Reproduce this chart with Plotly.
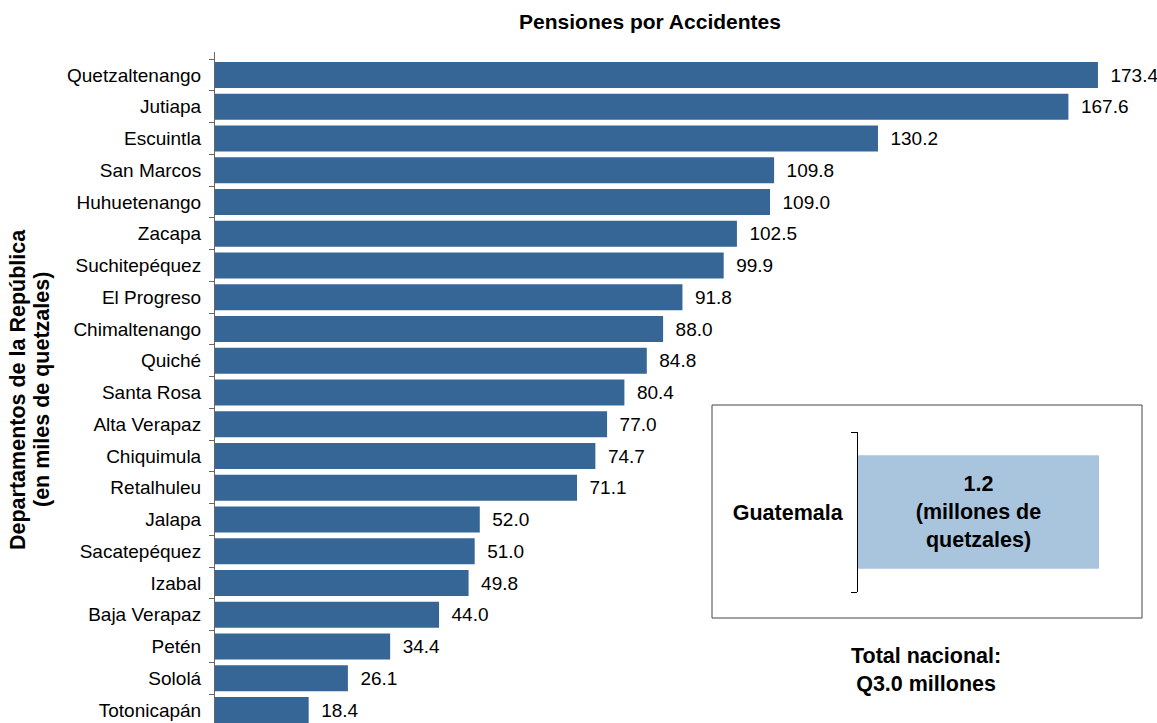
import plotly.graph_objects as go

departamentos = ["Quetzaltenango", "Jutiapa", "Escuintla", "San Marcos", "Huhuetenango",
                 "Zacapa", "Suchitepéquez", "El Progreso", "Chimaltenango", "Quiché",
                 "Santa Rosa", "Alta Verapaz", "Chiquimula", "Retalhuleu", "Jalapa",
                 "Sacatepéquez", "Izabal", "Baja Verapaz", "Petén", "Sololá", "Totonicapán"]
valores = [173.4, 167.6, 130.2, 109.8, 109.0, 102.5, 99.9, 91.8, 88.0, 84.8,
           80.4, 77.0, 74.7, 71.1, 52.0, 51.0, 49.8, 44.0, 34.4, 26.1, 18.4]

capital = ["Guatemala"]
capital_valor = [1.2]
capital_texto = ["1.2<br>(millones de<br>quetzales)"]

titulo = "Pensiones por Accidentes"
eje_y_lineas = ["Departamentos de la República", "(en miles de quetzales)"]
total = "Total nacional:<br>Q3.0 millones"

FONT = "Liberation Sans, Arial, Helvetica, sans-serif"
BAR = "#366696"
LIGHT = "#a9c5de"
W, H = 1157, 723
L, T = 215, 52
PW, PH = W - L, H - T
REG = 19
BOLD = 21.5

def px(x):
    return (x - L) / PW

def py(y):
    return (H - y) / PH

fig = go.Figure()
fig.add_trace(go.Bar(
    x=valores, y=departamentos, orientation="h",
    marker=dict(color=BAR, line=dict(width=0)),
    width=0.82,
    text=[f"\u2002{v:.1f}" for v in valores],
    textposition="outside", constraintext="none", cliponaxis=False,
    textfont=dict(family=FONT, size=REG, color="#000"),
    hoverinfo="skip", showlegend=False,
))
fig.add_trace(go.Bar(
    x=capital_valor, y=capital, orientation="h", xaxis="x2", yaxis="y2",
    marker=dict(color=LIGHT, line=dict(width=0)),
    width=0.71,
    text=capital_texto, textposition="inside", insidetextanchor="middle",
    constraintext="none",
    textfont=dict(family=FONT, size=BOLD, color="#000", weight="bold"),
    hoverinfo="skip", showlegend=False,
))

pitch = 31.75
c0 = 75
top_idx = (T - c0) / pitch
bot_idx = (H - c0) / pitch

annotations = [
    dict(text=f"<b>{line}</b>", textangle=-90, xref="paper", yref="paper",
         x=px(xc), y=py(390), xanchor="center", yanchor="middle", showarrow=False,
         font=dict(family=FONT, size=BOLD, color="#000"))
    for line, xc in zip(eje_y_lineas, [18, 42])
]
annotations.append(
    dict(text=f"<b>{total}</b>", xref="paper", yref="paper",
         x=px(926), y=py(670), xanchor="center", yanchor="middle", showarrow=False,
         font=dict(family=FONT, size=BOLD, color="#000")))

fig.update_layout(
    width=W, height=H,
    margin=dict(l=L, r=0, t=T, b=0),
    plot_bgcolor="white", paper_bgcolor="white",
    font=dict(family=FONT, size=REG, color="#000"),
    title=dict(text=f"<b>{titulo}</b>", x=650 / W, xref="container", xanchor="center",
               y=1 - 22 / H, yref="container", yanchor="middle",
               font=dict(family=FONT, size=21, color="#000")),
    xaxis=dict(range=[0, PW / 5.092], visible=False, fixedrange=True),
    yaxis=dict(type="category", categoryorder="array", categoryarray=departamentos,
               range=[bot_idx, top_idx], showline=True, linecolor="#666", linewidth=1,
               ticks="outside", tickson="boundaries", ticklen=5, tickcolor="#666",
               ticklabelstandoff=9, showgrid=False, zeroline=False,
               tickfont=dict(family=FONT, size=REG, color="#000")),
    xaxis2=dict(domain=[px(858), px(1099)], range=[0, 1.2], visible=False,
                anchor="y2"),
    yaxis2=dict(domain=[py(592), py(432)], anchor="x2", type="category",
                range=[-0.5, 0.5], showline=True, linecolor="#000", linewidth=1,
                ticks="outside", tickson="boundaries", ticklen=6, tickcolor="#000",
                ticklabelstandoff=10, showgrid=False, zeroline=False,
                tickfont=dict(family=FONT, size=BOLD, color="#000", weight="bold")),
    shapes=[dict(type="rect", xref="paper", yref="paper",
                 x0=px(712), x1=px(1142), y0=py(618), y1=py(405),
                 line=dict(color="#444", width=1), fillcolor="rgba(0,0,0,0)", layer="below")],
    annotations=annotations,
)

fig.write_html("out.html", config={"displayModeBar": False},
               post_script="document.body.style.margin='0';document.body.style.overflow='hidden';")
